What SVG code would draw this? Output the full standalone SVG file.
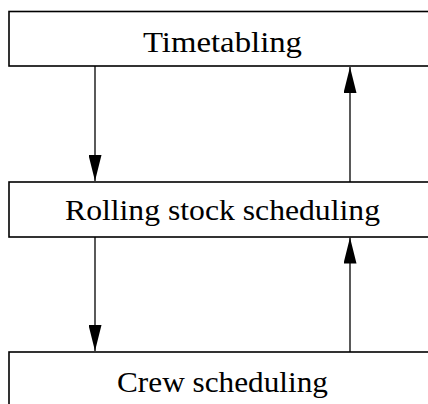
<svg xmlns="http://www.w3.org/2000/svg" width="428" height="404" viewBox="0 0 428 404">
  <style>
    .box { fill: #fff; stroke: #000; stroke-width: 1.6; }
    .lbl { font-family: "Liberation Serif", "DejaVu Serif", serif; font-size: 30px; fill: #000; text-anchor: middle; }
    .edge { stroke: #000; stroke-width: 1.3; fill: none; }
  </style>
  <defs>
    <marker id="arrow" markerUnits="userSpaceOnUse" markerWidth="26" markerHeight="13" refX="26" refY="6.5" orient="auto">
      <path d="M0,0 L26,6.5 L0,13 Z" fill="#000"/>
    </marker>
  </defs>

  <g id="timetabling">
    <rect class="box" x="9" y="11.5" width="428" height="54.5"/>
    <text class="lbl" x="222.5" y="52" textLength="159" lengthAdjust="spacingAndGlyphs">Timetabling</text>
  </g>

  <g id="rolling-stock">
    <rect class="box" x="9" y="182" width="428" height="55"/>
    <text class="lbl" x="222.5" y="220" textLength="315" lengthAdjust="spacingAndGlyphs">Rolling stock scheduling</text>
  </g>

  <g id="crew">
    <rect class="box" x="9" y="352" width="428" height="60"/>
    <text class="lbl" x="222.5" y="391.5" textLength="211" lengthAdjust="spacingAndGlyphs">Crew scheduling</text>
  </g>

  <g id="connectors">
    <line class="edge" x1="95" y1="66" x2="95" y2="181" marker-end="url(#arrow)"/>
    <line class="edge" x1="350" y1="182" x2="350" y2="67" marker-end="url(#arrow)"/>
    <line class="edge" x1="95" y1="237" x2="95" y2="351" marker-end="url(#arrow)"/>
    <line class="edge" x1="350" y1="352" x2="350" y2="237.5" marker-end="url(#arrow)"/>
  </g>
</svg>
